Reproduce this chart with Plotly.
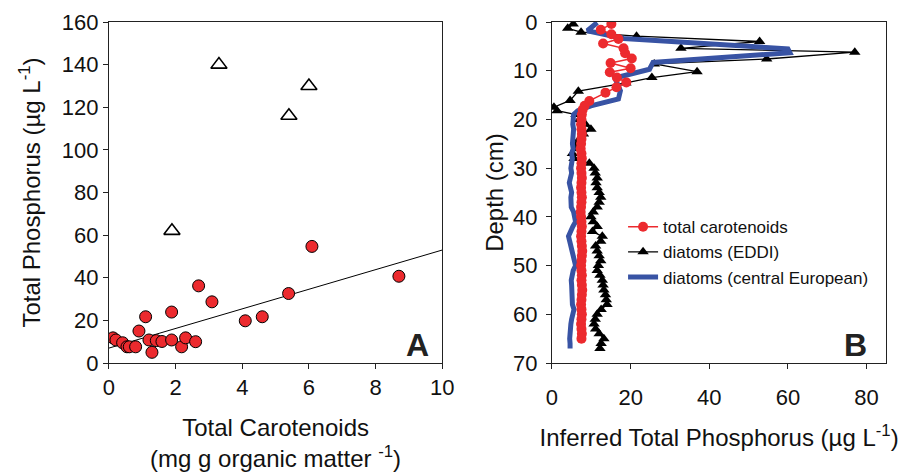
import plotly.graph_objects as go

# ---------------- Panel A data ----------------
car_x = [0.12, 0.21, 0.41, 0.54, 0.61, 0.80, 0.90, 1.10, 1.20, 1.29, 1.42, 1.59,
         1.88, 1.88, 2.18, 2.30, 2.60, 2.69, 3.09, 4.09, 4.60, 5.39, 6.09, 8.70]
car_tp = [11.8, 10.8, 9.5, 7.6, 7.6, 7.6, 15.0, 21.7, 10.8, 5.0, 10.5, 10.1,
          23.9, 10.8, 7.6, 11.8, 10.0, 36.2, 28.7, 19.8, 21.7, 32.6, 54.7, 40.7]
out_x = [3.30, 6.00, 5.40, 1.89]
out_tp = [140.0, 130.0, 116.0, 62.0]
fit_x = [0, 10]
fit_intercept = 7.0
fit_slope = 4.6

# ---------------- Panel B data ----------------
carot_depth = [0.4, 1.6, 2.5, 3.5, 4.4, 5.4, 6.4, 7.5, 8.4, 9.5, 10.3, 11.4, 12.4,
               13.4, 14.5, 16.2, 17.2, 18.0] + list(range(19, 68))
carot_tp = [15.1, 12.4, 15.1, 16.9, 13.0, 18.2, 18.6, 20.3, 14.9, 20.0, 14.7, 16.5, 18.9,
            16.4, 13.6, 9.5, 8.3, 7.8,
            7.6, 7.5, 7.4, 7.5, 7.6, 7.5, 7.4, 7.3, 7.5, 7.6, 7.5, 7.4, 7.5, 7.6, 7.5,
            7.4, 7.5, 7.6, 7.5, 7.4, 7.3, 7.4, 7.5, 7.6, 7.5, 7.4, 7.5, 7.6, 7.7, 7.6,
            7.5, 7.4, 7.5, 7.6, 7.5, 7.6, 7.7, 7.6, 7.5, 7.4, 7.5, 7.6, 7.5, 7.4, 7.5,
            7.6, 7.5]

eddi_depth = [0.4, 1.3, 2.1, 2.9, 4.0, 5.4, 6.2, 7.6, 8.6, 10.2, 11.4, 12.5, 14.2,
              16.1, 17.5, 18.2] + list(range(19, 68))
eddi_tp = [5.4, 4.0, 7.4, 21.5, 52.8, 32.8, 77.0, 54.6, 26.0, 36.9, 25.4, 18.8, 6.7,
           4.6, 0.5, 1.3,
           6.1, 7.0, 8.5, 9.9, 8.0, 7.0, 6.4, 6.0, 5.2, 5.6, 9.5, 10.7, 11.0, 11.5,
           11.2, 11.5, 12.0, 12.4, 12.0, 11.5, 10.5, 9.9, 10.5, 11.5, 10.3, 12.8,
           12.4, 11.1, 11.5, 12.0, 12.4, 11.8, 11.5, 12.2, 12.8, 13.0, 13.2, 13.6,
           13.8, 14.0, 12.5, 11.5, 11.0, 10.7, 11.1, 12.0, 13.2, 12.5, 12.2]

ce_depth = [0.1, 1.8, 3.4, 5.5, 6.3, 8.3, 9.7, 11.5, 14.1, 15.8, 17.2, 18.2] + list(range(19, 68))
ce_tp = [11.5, 9.0, 18.2, 60.0, 60.5, 25.7, 24.8, 16.0, 17.4, 16.9, 9.9, 6.6,
         5.5, 5.3, 5.3, 5.5, 5.4, 5.0, 5.2, 5.4, 5.0, 5.2, 5.0, 4.8, 5.0, 4.6, 4.4,
         4.7, 5.0, 4.8, 5.0, 4.9, 5.5, 5.8, 6.0, 5.3, 4.6, 4.2, 4.5, 4.8, 4.8, 5.3,
         5.5, 6.0, 5.4, 5.0, 4.9, 5.0, 5.0, 4.9, 5.0, 5.2, 5.6, 5.2, 5.0, 4.8, 4.6,
         4.5, 4.5, 4.6, 4.6]

RED = "#EC2A2E"
BLUE = "#3853A4"
FONT = "Liberation Sans, Arial, sans-serif"

fig = go.Figure()

# Panel A
fig.add_trace(go.Scatter(
    x=fit_x, y=[fit_intercept + fit_slope * v for v in fit_x],
    mode="lines", line=dict(color="black", width=1), showlegend=False,
    xaxis="x", yaxis="y"))
fig.add_trace(go.Scatter(
    x=out_x, y=out_tp, mode="markers",
    marker=dict(symbol="triangle-up-open", size=14, color="black", line=dict(width=1.6)),
    showlegend=False, xaxis="x", yaxis="y"))
fig.add_trace(go.Scatter(
    x=car_x, y=car_tp, mode="markers",
    marker=dict(symbol="circle", size=12, color=RED, line=dict(color="black", width=1)),
    showlegend=False, xaxis="x", yaxis="y"))

# Panel B
fig.add_trace(go.Scatter(
    x=eddi_tp, y=eddi_depth, mode="lines+markers", name="diatoms (EDDI)",
    line=dict(color="black", width=1.3),
    marker=dict(symbol="triangle-up", size=10, color="black"),
    legendrank=2, xaxis="x2", yaxis="y2"))
fig.add_trace(go.Scatter(
    x=ce_tp, y=ce_depth, mode="lines", name="diatoms (central European)",
    line=dict(color=BLUE, width=5),
    legendrank=3, xaxis="x2", yaxis="y2"))
fig.add_trace(go.Scatter(
    x=carot_tp, y=carot_depth, mode="lines+markers", name="total carotenoids",
    line=dict(color=RED, width=1.5),
    marker=dict(symbol="circle", size=10, color=RED),
    legendrank=1, xaxis="x2", yaxis="y2"))

def axis_style(**extra):
    d = dict(showline=True, mirror=True, linecolor="#222", linewidth=1,
             ticks="outside", ticklen=5, tickcolor="#222", showgrid=False,
             zeroline=False, tickfont=dict(size=22, color="#111", family=FONT))
    d.update(extra)
    return d

TITLE_FONT = dict(size=24, family=FONT, color="#111")

fig.update_layout(
    width=911, height=472,
    margin=dict(l=0, r=0, t=22, b=109),
    paper_bgcolor="white", plot_bgcolor="white",
    font=dict(family=FONT, color="#111"),
    xaxis=axis_style(domain=[0.1153, 0.4885], range=[0, 10], dtick=2, anchor="y",
                     title=dict(text="Total Carotenoids<br>(mg g organic matter <sup>-1</sup>)",
                                font=TITLE_FONT, standoff=22)),
    yaxis=axis_style(domain=[0, 1], range=[0, 160], dtick=20, anchor="x",
                     title=dict(text="Total Phosphorus (µg L<sup>-1</sup>)", font=TITLE_FONT,
                                standoff=14)),
    xaxis2=axis_style(domain=[0.6114, 0.9857], range=[0, 85], tickvals=[0, 20, 40, 60, 80],
                      anchor="y2", ticklabelstandoff=10,
                      title=dict(text="Inferred Total Phosphorus (µg L<sup>-1</sup>)",
                                 font=TITLE_FONT, standoff=19)),
    yaxis2=axis_style(domain=[0, 1], range=[70, 0], dtick=10, anchor="x2",
                      ticklabelstandoff=4,
                      title=dict(text="Depth (cm)", font=TITLE_FONT, standoff=2)),
    legend=dict(x=0.691, y=0.325, xanchor="left", yanchor="middle",
                bgcolor="rgba(0,0,0,0)", font=dict(size=17, family=FONT, color="#111"),
                tracegroupgap=0),
    annotations=[
        dict(text="<b>A</b>", xref="x domain", yref="y domain", x=0.926, y=0.053,
             xanchor="center", yanchor="middle", showarrow=False,
             font=dict(size=32, family=FONT, color="#222")),
        dict(text="<b>B</b>", xref="x2 domain", yref="y2 domain", x=0.909, y=0.053,
             xanchor="center", yanchor="middle", showarrow=False,
             font=dict(size=32, family=FONT, color="#222")),
    ],
)

fig.write_html("out.html")
